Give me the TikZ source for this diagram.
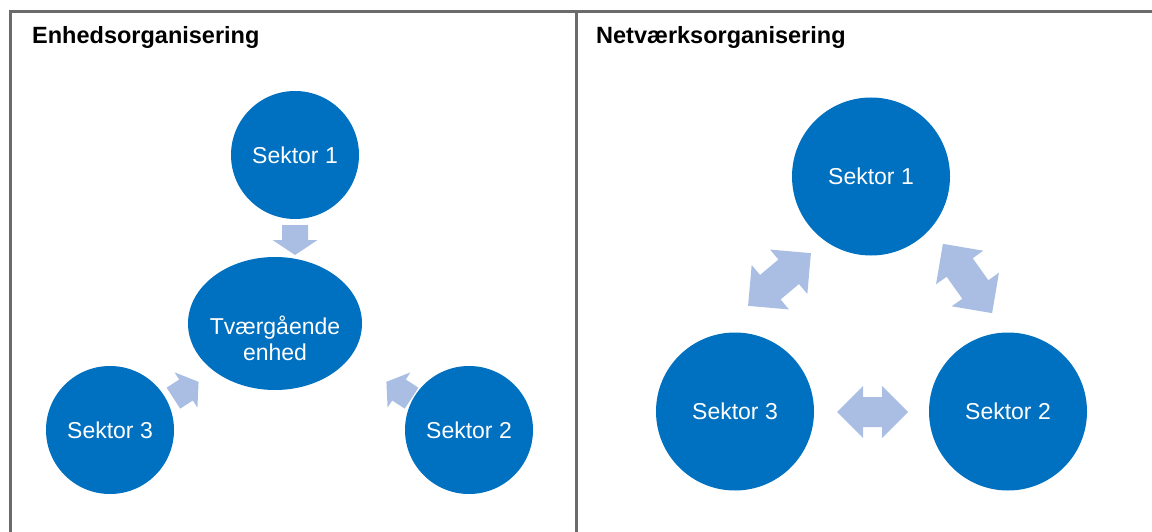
\documentclass[tikz,border=0pt]{standalone}
\usepackage{fontspec}
\setmainfont{Liberation Sans}
\usetikzlibrary{shapes.geometric}
\definecolor{secblue}{HTML}{0070C0}
\definecolor{arrblue}{HTML}{AABEE4}
\definecolor{framegray}{HTML}{6B6B6B}
\tikzset{
  frameline/.style={draw=framegray, line width=3pt},
  paneltitle/.style={font=\bfseries\fontsize{23.5}{27}\selectfont, text=black, inner sep=0pt, anchor=base west},
  sector/.style={circle, fill=secblue, draw=none, text=white, inner sep=0pt, font=\fontsize{23}{26}\selectfont},
  unit/.style={ellipse, fill=secblue, draw=none, inner sep=0pt},
  unittext/.style={text=white, align=center, inner sep=0pt, font=\fontsize{23}{26}\selectfont},
  pics/sarrow/.style n args={4}{code={%
    \fill[arrblue] (-#1,-#4) -- ({#1-#2},-#4) -- ({#1-#2},-#3) -- (#1,0) -- ({#1-#2},#3) -- ({#1-#2},#4) -- (-#1,#4) -- cycle;}},
  pics/darrow/.style n args={4}{code={%
    \fill[arrblue] (-#1,0) -- ({-#1+#2},#3) -- ({-#1+#2},#4) -- ({#1-#2},#4) -- ({#1-#2},#3) -- (#1,0) -- ({#1-#2},-#3) -- ({#1-#2},-#4) -- ({-#1+#2},-#4) -- ({-#1+#2},-#3) -- cycle;}},
}
\begin{document}
\begin{tikzpicture}[x=1pt, y=-1pt]
\useasboundingbox (0,0) rectangle (1152,532);
% frame
\coordinate (ftl) at (10.5,11.5);
\coordinate (ftr) at (1152,11.5);
\coordinate (fbl) at (10.5,532);
\coordinate (fmt) at (576.5,11.5);
\coordinate (fmb) at (576.5,532);
\draw[frameline] (ftr) -- (ftl) -- (fbl);
\draw[frameline] (fmt) -- (fmb);
% titles
\node[paneltitle] (t1) at (32,44) {Enhedsorganisering};
\node[paneltitle] (t2) at (596,44) {Netværksorganisering};
% left panel
\node[sector, minimum size=128pt] (l1) at (295,155) {Sektor 1};
\node[sector, minimum size=128pt] (l3) at (110,430) {Sektor 3};
\node[sector, minimum size=128pt] (l2) at (469,430) {Sektor 2};
\node[unit, minimum width=174pt, minimum height=133pt] (le) at (275,323.5) {};
\node[unittext] (let) at (275,338) {Tværgående\\enhed};
\pic[rotate=-90] (a1) at (295,240) {sarrow={15}{15}{22.5}{13}};
\pic[rotate=33] (a3) at (186,390) {sarrow={15}{15}{21}{12.5}};
\pic[rotate=147] (a2) at (399,390) {sarrow={15}{15}{21}{12.5}};
% right panel
\node[sector, minimum size=158pt] (r1) at (871,176.5) {Sektor 1};
\node[sector, minimum size=158pt] (r3) at (735,411.5) {Sektor 3};
\node[sector, minimum size=158pt] (r2) at (1008,411.5) {Sektor 2};
\pic[rotate=40] (d13) at (779.5,279.5) {darrow={41}{29}{29}{16}};
\pic[rotate=-54.6] (d12) at (967.5,278.5) {darrow={42.5}{29}{29}{16}};
\pic (d32) at (872.5,412) {darrow={35.5}{26}{26}{15}};
\end{tikzpicture}
\end{document}
